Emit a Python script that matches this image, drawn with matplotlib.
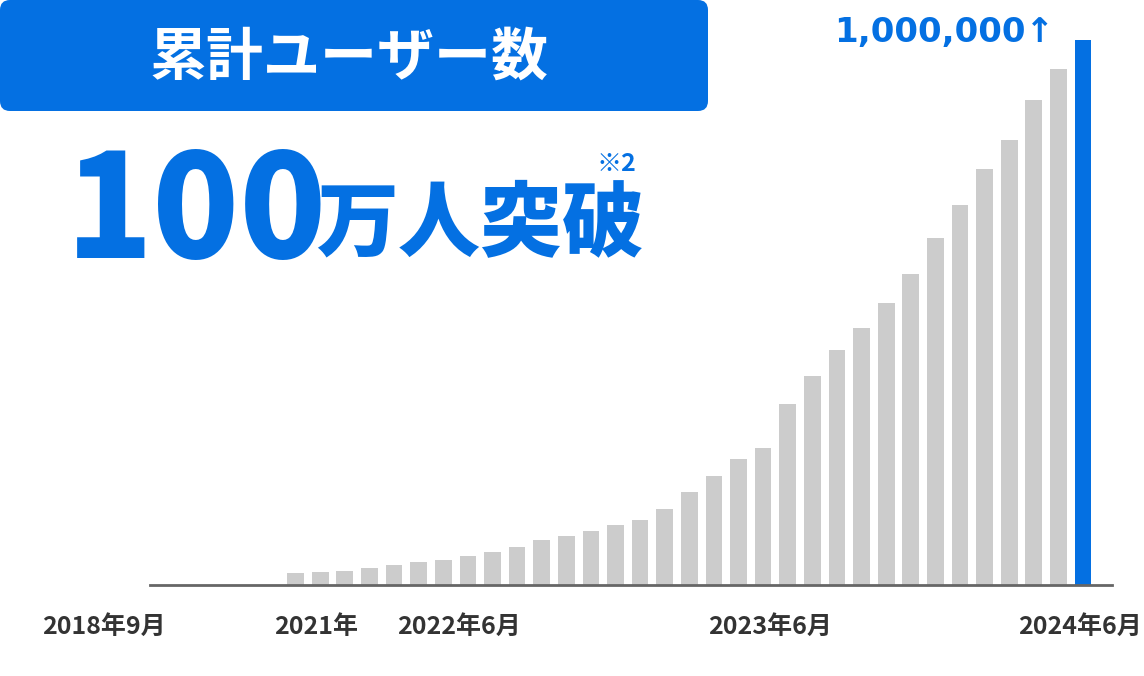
import matplotlib
matplotlib.use("Agg")
import matplotlib.pyplot as plt
from matplotlib.patches import FancyBboxPatch
import matplotlib.transforms as mtransforms
import numpy as np

plt.rcParams['font.family'] = ['Noto Sans CJK JP', 'DejaVu Sans']

# 累計ユーザー数（月次、推定値）
users = [21500, 23900, 25700, 31800, 36200, 42300, 46500, 53900, 60100, 69900,
         82200, 90100, 99800, 110300, 120000, 139700, 170400, 199800, 231600, 251800,
         332200, 383600, 431400, 471900, 517800, 569900, 636000, 698000, 764200, 816200,
         889700, 946100, 1000000]

# 軸ラベル
tick_labels = ["2018年9月", "2021年", "2022年6月", "2023年6月", "2024年6月"]
tick_pos = [-7.79, 0.83, 6.64, 19.26, 31.88]

blue = "#0470E2"
gray = "#CCCCCC"
text_dark = "#333333"

W, H = 1144, 676
fig = plt.figure(figsize=(W / 100, H / 100), dpi=100)

# 見出しなどの装飾用（ピクセル座標）
deco = fig.add_axes([0, 0, 1, 1])
deco.set_xlim(0, W)
deco.set_ylim(H, 0)
deco.axis('off')

box = FancyBboxPatch((0, 0), 708, 111, boxstyle="round,pad=0,rounding_size=10",
                     facecolor=blue, edgecolor='none')
deco.add_patch(box)
deco.text(349, 58, "累計ユーザー数", color='white', fontsize=41, fontweight='bold',
          ha='center', va='center')

deco.text(66, 258, "100", color=blue, fontsize=103, fontweight='black',
          ha='left', va='baseline')
deco.text(316, 250, "万人突破", color=blue, fontsize=59, fontweight='black',
          ha='left', va='baseline')
deco.text(597, 171, "※2", color=blue, fontsize=18, fontweight='bold',
          ha='left', va='baseline')
deco.text(834, 42, "1,000,000↑", color=blue, fontsize=24.5, fontweight='bold',
          family='DejaVu Sans', ha='left', va='baseline')

# 棒グラフ
ax = fig.add_axes([150 / W, (H - 585) / H, (1112 - 150) / W, (585 - 40) / H])
ax.patch.set_alpha(0)
x = np.arange(len(users))
colors = [gray] * (len(users) - 1) + [blue]
ax.bar(x, users, width=0.68, color=colors, zorder=2)
ax.set_xlim(-5.92, 33.18)
ax.set_ylim(0, 1000000)

for s in ['top', 'right', 'left']:
    ax.spines[s].set_visible(False)
ax.spines['bottom'].set_color('#666666')
ax.spines['bottom'].set_linewidth(2)
ax.spines['bottom'].set_zorder(3)
ax.set_xticks([])
ax.set_yticks([])

trans = mtransforms.blended_transform_factory(ax.transData, ax.transAxes)
for pos, lab in zip(tick_pos, tick_labels):
    ax.text(pos, -0.077, lab, transform=trans, ha='center', va='center',
            fontsize=18, fontweight='bold', color=text_dark, clip_on=False)

fig.savefig("out.png", dpi=100)
